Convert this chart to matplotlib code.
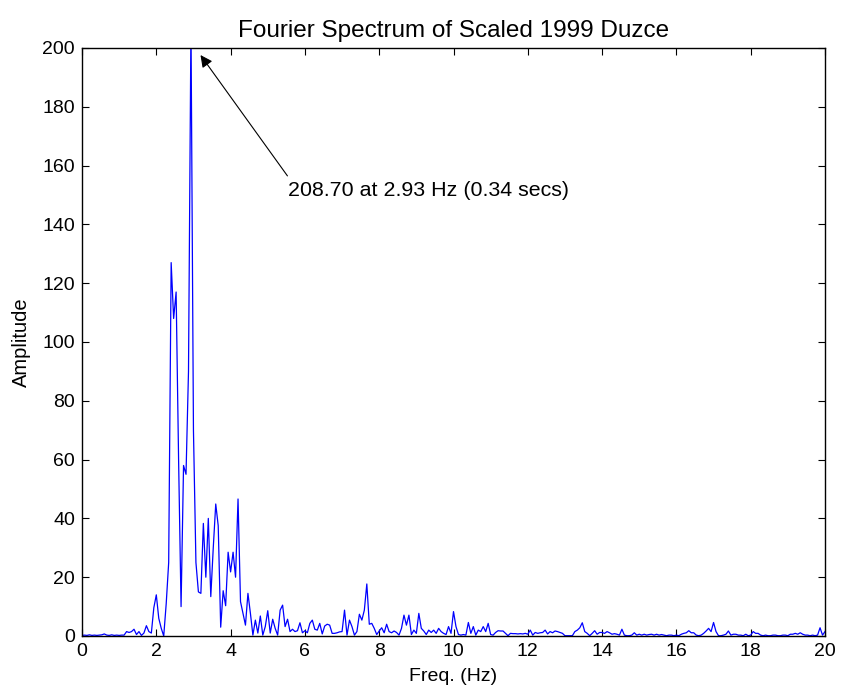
import numpy as np
import matplotlib
matplotlib.use('Agg')
import matplotlib.pyplot as plt

plt.rcParams['font.family'] = ['Liberation Sans', 'DejaVu Sans']

# Frequency step of the FFT bins (Hz)
df = 1.0 / 15.0

# Amplitudes, split by frequency band
amp_low = [0.2, 0.3, 0.2, 0.4, 0.2, 0.3, 0.2, 0.3, 0.4, 0.7,
           0.3, 0.2, 0.4, 0.2, 0.3, 0.2, 0.3,
           0.3, 1.5, 1.2, 1.5, 2.3, 0.5, 1.5, 0.2, 1.0, 3.5, 1.5, 1.0]

amp_main = [9.6, 14.0, 6.0, 2.6, 0.0, 11.0, 25.0, 127.0, 108.0, 117.0,
            60.0, 10.0, 58.0, 55.0, 90.0, 208.7, 70.0, 25.0, 15.0, 14.5,
            38.3, 20.0, 40.0, 13.4, 30.0, 44.9, 37.5, 3.0, 15.4, 10.3,
            28.5, 21.8, 28.5, 20.0, 46.6, 11.7, 7.7, 3.7, 14.5, 7.7]

amp_mid = [0.3, 5.4, 1.0, 6.8, 0.3, 3.2, 8.6, 1.0, 5.7, 2.6,
           0.3, 8.8, 10.5, 3.2, 5.7, 1.5, 2.3, 1.5, 1.8, 4.5,
           1.1, 1.8, 1.1, 4.3, 5.4, 2.3, 2.0, 4.3, 0.7, 3.4,
           4.0, 3.7, 0.9, 0.9, 1.1, 1.4, 1.5, 8.8, 0.3, 5.4,
           3.2, 0.3, 1.5, 7.4, 5.4, 8.8, 17.7, 4.0, 4.3, 2.6,
           0.5, 1.7, 2.8, 1.1, 4.0, 1.5, 1.1, 1.7, 1.2, 0.3,
           2.6, 7.1, 3.7, 7.1, 0.5, 2.0, 0.9, 7.7, 2.6, 1.7,
           0.5, 2.0, 1.2, 2.0, 0.9, 2.6, 1.5, 0.9, 0.5, 3.2, 0.9]

amp_high = [8.3, 3.2, 0.5, 0.3, 0.5, 0.3, 4.6, 0.9, 3.2, 0.3,
            2.0, 1.5, 3.2, 1.5, 4.3, 0.5, 0.3, 1.2, 1.8, 1.7,
            1.7, 0.9, 0.1, 0.9, 0.8, 0.8, 0.7, 0.8, 0.7, 0.9,
            0.6, 2.0, 0.3, 1.2, 0.9, 1.1, 1.2, 2.0, 0.7, 1.5,
            1.1, 1.7, 1.5, 1.2, 0.9, 0.1, 0.1, 0.1, 0.1, 1.5,
            2.0, 2.8, 4.5, 1.5, 0.9, 0.1, 0.9, 1.8, 0.6, 1.2,
            1.2, 0.9, 1.5, 1.1, 0.6, 0.8, 0.6, 0.3, 2.3, 0.3,
            0.1, 0.1, 0.3, 1.1, 0.3, 0.6, 0.3, 0.6, 0.3, 0.5,
            0.6, 0.3, 0.6, 0.3, 0.5, 0.3, 0.1, 0.3, 0.3, 0.1,
            0.3, 0.1, 0.6, 0.9, 1.1, 1.8, 1.1, 1.1, 0.3, 0.1,
            0.3, 0.9, 1.7, 2.6, 1.5, 4.6, 1.5, 0.1, 0.1, 0.3,
            0.6, 1.7, 0.3, 0.6, 0.6, 0.3, 0.3, 0.1, 0.6, 0.1,
            0.3, 1.5, 0.9, 0.9, 0.3, 0.1, 0.3, 0.1, 0.1, 0.3,
            0.3, 0.1, 0.1, 0.3, 0.3, 0.1, 0.6, 0.6, 0.9, 0.6,
            1.1, 0.6, 0.3, 0.3, 0.1, 0.3, 0.1, 0.3, 2.8, 0.3,
            1.5]

amp = np.array(amp_low + amp_main + amp_mid + amp_high)
freq = np.arange(len(amp)) * df

peak_amp = 208.70
peak_freq = 2.93
x_ticks = list(range(0, 21, 2))
y_ticks = list(range(0, 201, 20))

fig = plt.figure(figsize=(8.43, 6.94), dpi=100)
ax = fig.add_axes([82 / 843, 58 / 694, 743 / 843, 588 / 694])

ax.plot(freq, amp, color=(0, 0, 1), linewidth=0.9)

ax.set_xlim(0, 20)
ax.set_ylim(0, 200)
ax.set_xticks(x_ticks)
ax.set_yticks(y_ticks)
ax.tick_params(direction='in', length=5, width=0.8, top=True, right=True,
               labelsize=14, pad=5)
for s in ax.spines.values():
    s.set_linewidth(1.0)

ax.set_title('Fourier Spectrum of Scaled 1999 Duzce', fontsize=17.5, pad=8)
ax.set_xlabel('Freq. (Hz)', fontsize=14, labelpad=6)
ax.set_ylabel('Amplitude', fontsize=14.5, labelpad=8)

# Arrow pointing to the clipped peak, with its label
ax.annotate('', xy=(3.19, 197.6), xytext=(5.53, 156.5),
            arrowprops=dict(arrowstyle='-|>', color='black', lw=0.8,
                            mutation_scale=18, shrinkA=0, shrinkB=0))
ax.text(5.55, 151.7, '%.2f at %.2f Hz (%.2f secs)' % (peak_amp, peak_freq, 1 / peak_freq),
        fontsize=15.4, ha='left', va='center')

fig.savefig('out.png', dpi=100)
